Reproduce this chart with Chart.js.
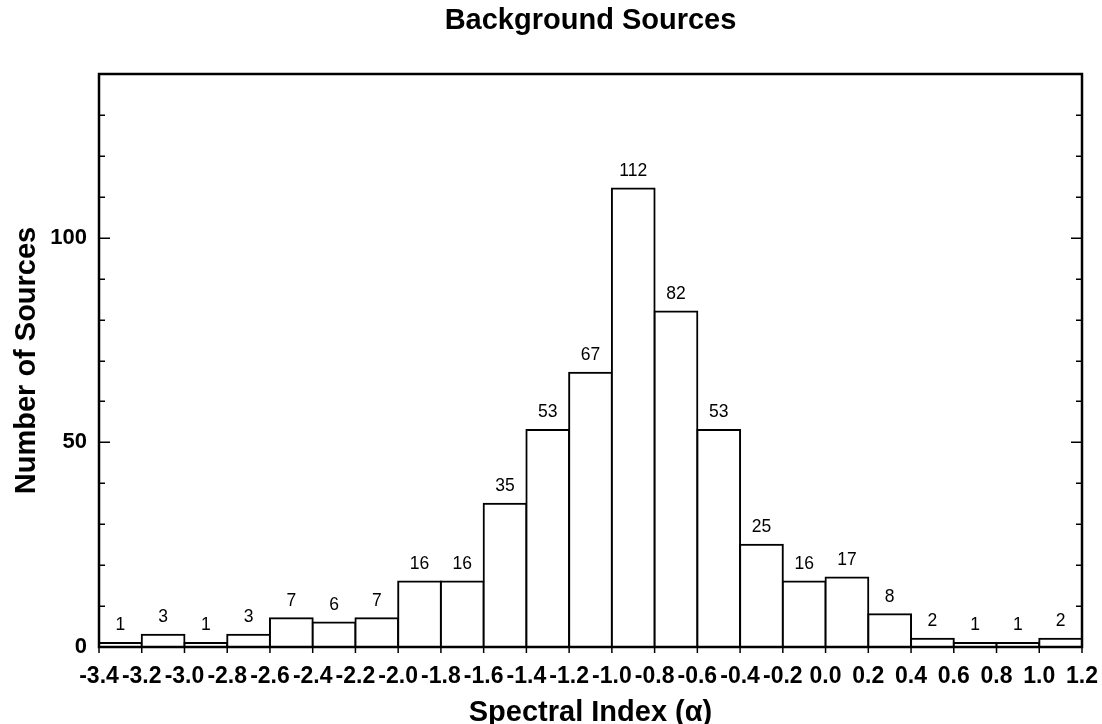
<!DOCTYPE html>
<html>
<head>
<meta charset="utf-8">
<title>Background Sources</title>
<script src="https://cdn.jsdelivr.net/npm/chart.js@4.4.1/dist/chart.umd.min.js"></script>
<style>
  html, body { margin: 0; padding: 0; background: #ffffff; }
  #wrap { width: 1102px; height: 724px; }
</style>
</head>
<body>
<div id="wrap"><canvas id="chart" width="1102" height="724"></canvas></div>
<script>
// Histogram bin edges along the spectral-index axis
const binEdges = [-3.4, -3.2, -3.0, -2.8, -2.6, -2.4, -2.2, -2.0, -1.8, -1.6, -1.4, -1.2,
                  -1.0, -0.8, -0.6, -0.4, -0.2, 0.0, 0.2, 0.4, 0.6, 0.8, 1.0, 1.2];
// Tick labels printed under each bin edge
const xTickLabels = ['-3.4', '-3.2', '-3.0', '-2.8', '-2.6', '-2.4', '-2.2', '-2.0', '-1.8', '-1.6', '-1.4', '-1.2',
                     '-1.0', '-0.8', '-0.6', '-0.4', '-0.2', '0.0', '0.2', '0.4', '0.6', '0.8', '1.0', '1.2'];
// Number of sources in each bin
const counts = [1, 3, 1, 3, 7, 6, 7, 16, 16, 35, 53, 67, 112, 82, 53, 25, 16, 17, 8, 2, 1, 1, 2];
// Labelled ticks on the count axis
const yTickValues = [0, 50, 100];
const yTickLabels = ['0', '50', '100'];
const yMax = 140;
const yMinorStep = 10;

const FONT = "Arial, 'Liberation Sans', Helvetica, sans-serif";

// Each bar sits at the centre of its bin
const barPoints = counts.map((n, i) => ({ x: (binEdges[i] + binEdges[i + 1]) / 2, y: n }));

// Frame, inward/outward tick marks and the count printed above each bar
const framePlugin = {
  id: 'frameAndLabels',
  afterDatasetsDraw(chart) {
    const ctx = chart.ctx;
    ctx.save();
    ctx.fillStyle = '#000';
    ctx.font = '17.5px ' + FONT;
    ctx.textAlign = 'center';
    ctx.textBaseline = 'alphabetic';
    chart.getDatasetMeta(0).data.forEach((bar, i) => {
      ctx.fillText(String(counts[i]), bar.x, bar.y - 12.7);
    });
    ctx.restore();
  },
  afterDraw(chart) {
    const ctx = chart.ctx;
    const { left, right, top, bottom } = chart.chartArea;
    const xs = chart.scales.x, ys = chart.scales.y;
    ctx.save();
    ctx.strokeStyle = '#000';
    ctx.lineCap = 'butt';

    // minor/major ticks pointing into the plot on both sides
    ctx.lineWidth = 1.5;
    ctx.beginPath();
    for (let v = yMinorStep; v < yMax; v += yMinorStep) {
      const y = Math.round(ys.getPixelForValue(v)) + 0.25;
      const len = v % 50 === 0 ? 11 : 6;
      ctx.moveTo(left, y); ctx.lineTo(left + len, y);
      ctx.moveTo(right, y); ctx.lineTo(right - len, y);
    }
    // bin-edge ticks below the x axis
    binEdges.forEach(v => {
      const x = xs.getPixelForValue(v);
      ctx.moveTo(x, bottom); ctx.lineTo(x, bottom + 6);
    });
    ctx.stroke();

    // plot frame
    ctx.lineWidth = 2.5;
    ctx.strokeRect(left, top, right - left, bottom - top);
    ctx.restore();
  }
};

new Chart(document.getElementById('chart'), {
  type: 'bar',
  data: {
    datasets: [{
      data: barPoints,
      backgroundColor: '#ffffff',
      borderColor: '#000000',
      borderWidth: 2,
      inflateAmount: 1,
      barPercentage: 1,
      categoryPercentage: 1
    }]
  },
  options: {
    responsive: false,
    animation: false,
    devicePixelRatio: 1,
    layout: { padding: { left: 0, right: 20, top: 0, bottom: 0 } },
    plugins: {
      legend: { display: false },
      tooltip: { enabled: false },
      title: {
        display: true,
        text: 'Background Sources',
        fullSize: false,
        color: '#000',
        font: { family: FONT, size: 29, weight: 'bold', lineHeight: 41.4 / 29 },
        padding: { top: 0, bottom: 32.6 }
      }
    },
    scales: {
      x: {
        type: 'linear',
        min: binEdges[0],
        max: binEdges[binEdges.length - 1],
        offset: false,
        grid: { display: false, drawTicks: false },
        border: { display: false },
        ticks: {
          autoSkip: false,
          maxRotation: 0,
          minRotation: 0,
          padding: 16,
          color: '#000',
          font: { family: FONT, size: 23, weight: 'bold', lineHeight: 1.2 },
          callback: (v, i) => xTickLabels[i]
        },
        afterBuildTicks: s => { s.ticks = binEdges.map(value => ({ value })); },
        afterFit: s => { s.height = 77; s.paddingLeft = 0; s.paddingRight = 0; },
        title: {
          display: true,
          text: 'Spectral Index (α)',
          color: '#000',
          font: { family: FONT, size: 29, weight: 'bold', lineHeight: 0.79 },
          padding: 0
        }
      },
      y: {
        min: 0,
        max: yMax,
        grid: { display: false, drawTicks: false },
        border: { display: false },
        ticks: {
          padding: 12,
          color: '#000',
          font: { family: FONT, size: 22, weight: 'bold', lineHeight: 1.2 },
          callback: v => {
            const k = yTickValues.indexOf(v);
            return k >= 0 ? yTickLabels[k] : '';
          }
        },
        afterBuildTicks: s => { s.ticks = yTickValues.map(value => ({ value })); },
        afterFit: s => { s.width = 99; s.paddingTop = 0; s.paddingBottom = 0; },
        title: {
          display: true,
          text: 'Number of Sources',
          color: '#000',
          font: { family: FONT, size: 29, weight: 'bold', lineHeight: 1.2 },
          padding: { top: 9.3, bottom: 0 }
        }
      }
    }
  },
  plugins: [framePlugin]
});
</script>
</body>
</html>
